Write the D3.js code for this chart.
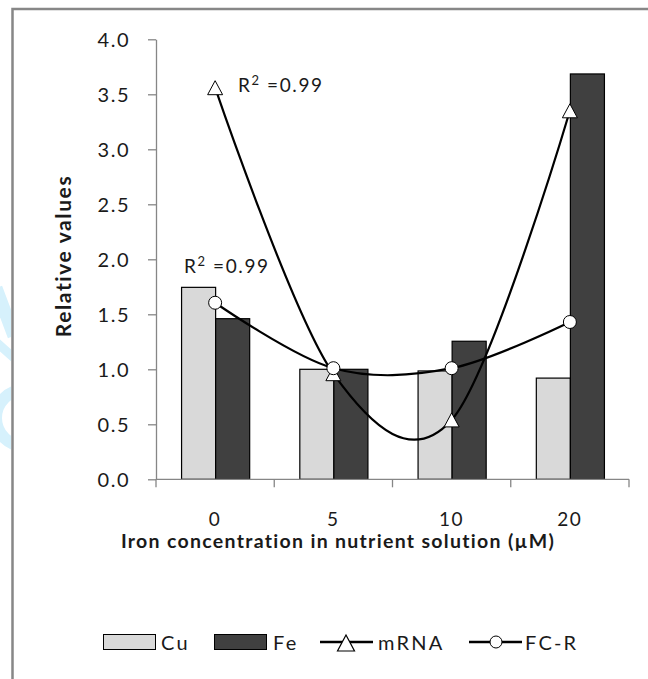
<!DOCTYPE html>
<html>
<head>
<meta charset="utf-8">
<script src="https://cdn.jsdelivr.net/npm/d3@7"></script>
<style>
  html, body { margin: 0; padding: 0; background: #fff; }
  svg { display: block; }
  text { font-family: Lato, "Open Sans", sans-serif; fill: #1a1a1a; }
</style>
</head>
<body>
<svg id="chart" width="648" height="679"></svg>
<script>
// Iron concentration categories (µM) and the measured relative values
const categories = ["0", "5", "10", "20"];
const cuValues   = [1.745, 1.0, 0.985, 0.92];
const feValues   = [1.46, 1.0, 1.255, 3.685];
const mrnaValues = [3.56, 0.96, 0.54, 3.35];
const fcrValues  = [1.605, 1.01, 1.01, 1.43];
const yTicks     = [0, 0.5, 1.0, 1.5, 2.0, 2.5, 3.0, 3.5, 4.0];
const r2Labels   = ["0.99", "0.99"];
const legendItems = ["Cu", "Fe", "mRNA", "FC-R"];

const svg = d3.select("#chart");

// plot area
const plot = { left: 156, right: 629, top: 39.3, bottom: 479.3 };

const x = d3.scaleBand()
  .domain(categories)
  .range([plot.left, plot.right])
  .paddingInner(0.424)
  .paddingOuter(0.212);
const half = x.bandwidth() / 2;
const cx = c => x(c) + half;

const y = d3.scaleLinear().domain([0, 4]).range([plot.bottom, plot.top]);

const axisColor = "#868686";

// faint logo fragment at the left edge
svg.append("defs").append("clipPath").attr("id", "wmClip")
  .append("rect").attr("x", 0).attr("y", 0).attr("width", 11).attr("height", 679);
const wm = svg.append("g").attr("clip-path", "url(#wmClip)");
wm.append("path")
  .attr("d", "M-4,288 L14,336")
  .attr("stroke", "#d6f1fc").attr("stroke-width", 13).attr("fill", "none");
wm.append("path")
  .attr("d", "M-4,342 L14,358")
  .attr("stroke", "#d6f1fc").attr("stroke-width", 9).attr("fill", "none");
wm.append("circle")
  .attr("cx", 24).attr("cy", 418).attr("r", 28)
  .attr("stroke", "#d6f1fc").attr("stroke-width", 12).attr("fill", "none");

// outer frame (top and left edges)
svg.append("path")
  .attr("d", "M12.5,679 L12.5,9 L648,9")
  .attr("fill", "none").attr("stroke", "#878787").attr("stroke-width", 2.5);

// bars
const bars = svg.append("g");
bars.selectAll("rect.cu").data(categories).join("rect")
  .attr("class", "cu")
  .attr("x", c => x(c) + 0.5)
  .attr("y", (c, i) => y(cuValues[i]))
  .attr("width", half)
  .attr("height", (c, i) => y(0) - y(cuValues[i]))
  .attr("fill", "#d9d9d9").attr("stroke", "#000").attr("stroke-width", 1.2);
bars.selectAll("rect.fe").data(categories).join("rect")
  .attr("class", "fe")
  .attr("x", c => x(c) + half + 0.5)
  .attr("y", (c, i) => y(feValues[i]))
  .attr("width", half)
  .attr("height", (c, i) => y(0) - y(feValues[i]))
  .attr("fill", "#404040").attr("stroke", "#000").attr("stroke-width", 1.2);

// y axis
const yAxis = svg.append("g")
  .attr("transform", `translate(${plot.left},0)`)
  .call(d3.axisLeft(y).tickValues(yTicks).tickFormat(d3.format(".1f"))
    .tickSizeInner(8).tickSizeOuter(0).tickPadding(18));
yAxis.select(".domain").attr("stroke", axisColor).attr("stroke-width", 1.3);
yAxis.selectAll(".tick line").attr("stroke", axisColor).attr("stroke-width", 1.3);
yAxis.selectAll(".tick text")
  .attr("font-family", "Lato, sans-serif").attr("font-size", 20)
  .attr("letter-spacing", 1.5).attr("fill", "#1a1a1a").attr("dy", "0.36em");

// x axis: baseline, boundary ticks and centred category labels
const xAxis = svg.append("g").attr("transform", `translate(0,${plot.bottom})`);
xAxis.append("line")
  .attr("x1", plot.left).attr("x2", plot.right)
  .attr("stroke", axisColor).attr("stroke-width", 1.3);
const bounds = categories.map(c => x(c) - x.step() * x.paddingInner() / 2).concat([plot.right]);
xAxis.selectAll("line.tick").data(bounds).join("line")
  .attr("class", "tick")
  .attr("x1", d => d).attr("x2", d => d).attr("y1", 0).attr("y2", 8)
  .attr("stroke", axisColor).attr("stroke-width", 1.3);
xAxis.selectAll("text").data(categories).join("text")
  .attr("x", c => cx(c)).attr("y", 47)
  .attr("text-anchor", "middle")
  .attr("font-size", 19).attr("letter-spacing", 1.5)
  .text(c => c);

// axis titles
svg.append("text")
  .attr("x", 338).attr("y", 548)
  .attr("text-anchor", "middle")
  .attr("font-size", 19.5).attr("font-weight", "bold").attr("letter-spacing", 1.3)
  .text("Iron concentration in nutrient solution (µM)");
svg.append("text")
  .attr("transform", "translate(71,256) rotate(-90)")
  .attr("text-anchor", "middle")
  .attr("font-size", 21).attr("font-weight", "bold").attr("letter-spacing", 1.6)
  .text("Relative values");

// smoothed series lines
const line = d3.line()
  .x((d, i) => cx(categories[i]))
  .y(d => y(d))
  .curve(d3.curveCatmullRom.alpha(0));

const triPath = "M0,-7 L7.5,7 L-7.5,7 Z";

svg.append("path").datum(mrnaValues)
  .attr("d", line).attr("fill", "none")
  .attr("stroke", "#000").attr("stroke-width", 2.2);
svg.append("g").selectAll("path").data(mrnaValues).join("path")
  .attr("d", triPath)
  .attr("transform", (d, i) => `translate(${cx(categories[i])},${y(d)})`)
  .attr("fill", "#fff").attr("stroke", "#000").attr("stroke-width", 1);

svg.append("path").datum(fcrValues)
  .attr("d", line).attr("fill", "none")
  .attr("stroke", "#000").attr("stroke-width", 2.2);
svg.append("g").selectAll("circle").data(fcrValues).join("circle")
  .attr("cx", (d, i) => cx(categories[i])).attr("cy", d => y(d))
  .attr("r", 6.5)
  .attr("fill", "#fff").attr("stroke", "#000").attr("stroke-width", 1);

// R² annotations
function r2(xPos, yPos, val) {
  const t = svg.append("text").attr("x", xPos).attr("y", yPos)
    .attr("font-size", 19).attr("letter-spacing", 1.6);
  t.append("tspan").text("R");
  t.append("tspan").attr("font-size", 13).attr("dy", -7).text("2");
  t.append("tspan").attr("dy", 7).text(" =" + val);
}
r2(238, 92, r2Labels[0]);
r2(184, 273, r2Labels[1]);

// legend
const lg = svg.append("g").attr("transform", "translate(0,642)");
lg.append("rect").attr("x", 103.5).attr("y", -7.5).attr("width", 52).attr("height", 15)
  .attr("fill", "#d9d9d9").attr("stroke", "#000").attr("stroke-width", 1);
lg.append("rect").attr("x", 214.5).attr("y", -7.5).attr("width", 52).attr("height", 15)
  .attr("fill", "#404040").attr("stroke", "#000").attr("stroke-width", 1);
lg.append("line").attr("x1", 320).attr("x2", 373).attr("stroke", "#000").attr("stroke-width", 2.5);
lg.append("path").attr("d", "M0,-8 L8.5,8 L-8.5,8 Z").attr("transform", "translate(346,1)")
  .attr("fill", "#fff").attr("stroke", "#000").attr("stroke-width", 1.2);
lg.append("line").attr("x1", 469).attr("x2", 522).attr("stroke", "#000").attr("stroke-width", 2.5);
lg.append("circle").attr("cx", 496).attr("cy", 0).attr("r", 6)
  .attr("fill", "#fff").attr("stroke", "#000").attr("stroke-width", 1);
const legendX = [161, 273, 378, 525];
lg.selectAll("text").data(legendItems).join("text")
  .attr("x", (d, i) => legendX[i]).attr("y", 7.5)
  .attr("font-size", 20).attr("letter-spacing", 2.2)
  .text(d => d);
</script>
</body>
</html>
